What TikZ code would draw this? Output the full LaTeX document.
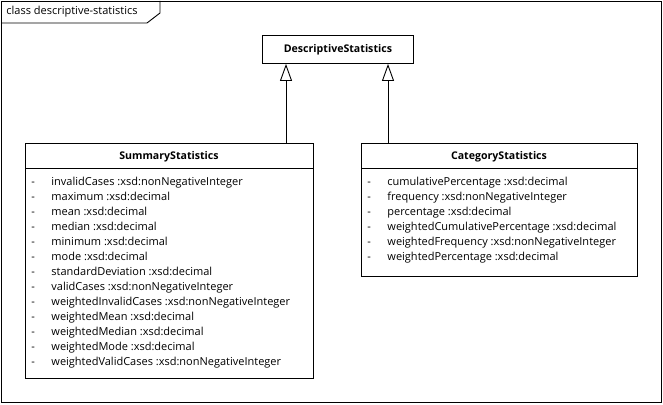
\documentclass[tikz,border=0pt]{standalone}
\usepackage{fontspec}
\setmainfont{Open Sans}
\usetikzlibrary{arrows.meta}
\begin{document}
\begin{tikzpicture}[x=1pt,y=-1pt,
  line width=0.9pt,
  cls/.style={draw,fill=white,anchor=north west,inner sep=0pt},
  hdr/.style={font=\fontsize{10.6}{12}\selectfont\bfseries,text height=8pt,text depth=2.5pt,inner sep=0pt},
  attr/.style={anchor=west,inner sep=0pt,text height=8pt,text depth=2.5pt,font=\fontsize{11}{13}\selectfont},
  gen/.style={-{Triangle[open,length=17pt,width=12pt,line width=0.9pt]}}
]
\useasboundingbox (0,0) rectangle (663,404);
% frame
\draw (1,1) rectangle (661,402);
\draw (1,23) -- (147,23) -- (160,13) -- (160,1);
\node[attr] (title) at (6,12) {class descriptive-statistics};
% DescriptiveStatistics
\node[cls,minimum width=151pt,minimum height=28pt] (desc) at (262,35) {};
\node[hdr] (descT) at (desc.center) {DescriptiveStatistics};
% SummaryStatistics
\node[cls,minimum width=288pt,minimum height=235pt] (sum) at (25,143) {};
\draw (25,168) -- (313,168);
\node[hdr] (sumT) at (169,157) {SummaryStatistics};
\foreach \t [count=\i from 0] in {invalidCases :xsd:nonNegativeInteger,maximum :xsd:decimal,mean :xsd:decimal,median :xsd:decimal,minimum :xsd:decimal,mode :xsd:decimal,standardDeviation :xsd:decimal,validCases :xsd:nonNegativeInteger,weightedInvalidCases :xsd:nonNegativeInteger,weightedMean :xsd:decimal,weightedMedian :xsd:decimal,weightedMode :xsd:decimal,weightedValidCases :xsd:nonNegativeInteger}{
  \node[attr] (sd\i) at (31,183+15*\i) {-};
  \node[attr] (sa\i) at (51,183+15*\i) {\t};
}
% CategoryStatistics
\node[cls,minimum width=276pt,minimum height=133pt] (cat) at (361,143) {};
\draw (361,168) -- (637,168);
\node[hdr] (catT) at (499,157) {CategoryStatistics};
\foreach \t [count=\i from 0] in {cumulativePercentage :xsd:decimal,frequency :xsd:nonNegativeInteger,percentage :xsd:decimal,weightedCumulativePercentage :xsd:decimal,weightedFrequency :xsd:nonNegativeInteger,weightedPercentage :xsd:decimal}{
  \node[attr] (cd\i) at (367,183+15*\i) {-};
  \node[attr] (ca\i) at (387,183+15*\i) {\t};
}
% generalizations
\coordinate (aL) at (286,0);
\coordinate (aR) at (388,0);
\draw[gen] (sum.north -| aL) -- (desc.south -| aL);
\draw[gen] (cat.north -| aR) -- (desc.south -| aR);
\end{tikzpicture}
\end{document}
